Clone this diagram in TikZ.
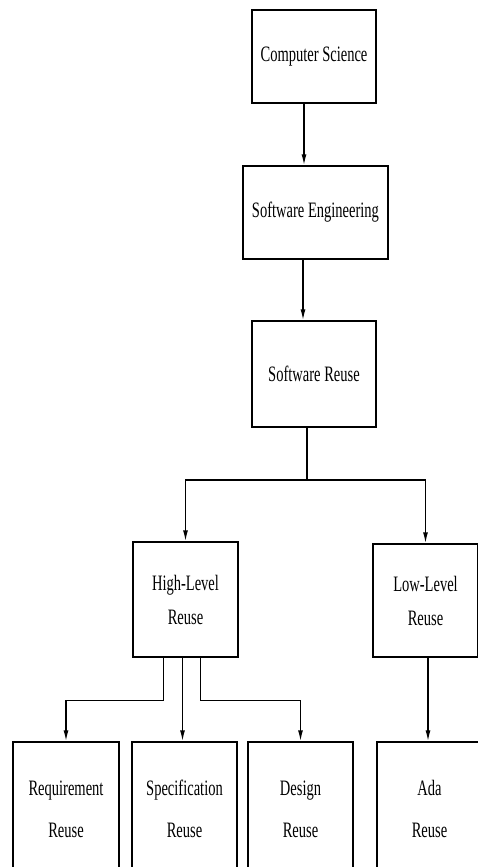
\documentclass[tikz,border=0pt]{standalone}
\usepackage{fontspec}
\setmainfont[FakeStretch=0.66]{Liberation Serif}
\usepackage{tikz}
\usetikzlibrary{arrows.meta}

\begin{document}
\begin{tikzpicture}[x=1pt,y=-1pt,
  box/.style={draw,line width=1.4pt,inner sep=0pt,align=center,
    font=\fontsize{22}{34}\selectfont},
  arr/.style={line width=1.4pt,-{Latex[length=11pt,width=5pt]}}]
\useasboundingbox (0,0) rectangle (478,867);
\clip (0,0) rectangle (478,867);
\node[box,minimum width=124pt,minimum height=93pt] (cs) at (314,56.5) {Computer Science};
\node[box,minimum width=145pt,minimum height=93pt] (se) at (315.5,212.5) {Software Engineering};
\node[box,minimum width=124pt,minimum height=106pt] (sr) at (314,374) {Software Reuse};
\node[box,minimum width=105pt,minimum height=115pt] (hl) at (185.5,599.5) {High-Level\\Reuse};
\node[box,minimum width=105pt,minimum height=113pt] (ll) at (425.5,600.5) {Low-Level\\Reuse};
\node[box,minimum width=106pt,minimum height=134pt] (req) at (66,809) {Requirement\\[8pt]Reuse};
\node[box,minimum width=105pt,minimum height=134pt] (spec) at (184.5,809) {Specification\\[8pt]Reuse};
\node[box,minimum width=105pt,minimum height=134pt] (des) at (300.5,809) {Design\\[8pt]Reuse};
\node[box,minimum width=105pt,minimum height=134pt] (ada) at (429.5,809) {Ada\\[8pt]Reuse};
% top chain
\draw[arr] ([xshift=-10pt]cs.south) -- ([xshift=-10pt]cs.south |- se.north);
\draw[arr] ([xshift=-12.5pt]se.south) -- ([xshift=-12.5pt]se.south |- sr.north);
% split into high and low level
\coordinate (split) at (307,480);
\draw[line width=1.4pt] (sr.south -| split) -- (split);
\draw[arr] (split) -| (hl.north);
\draw[arr] (split) -| (ll.north);
% high level children
\draw[arr] ([xshift=-22pt]hl.south) -- ++(0,43) -| (req.north);
\draw[arr] ([xshift=-3pt]hl.south) -- ([xshift=-3pt]hl.south |- spec.north);
\draw[arr] ([xshift=15pt]hl.south) -- ++(0,43) -| (des.north);
% low level child
\draw[arr] ([xshift=2.5pt]ll.south) -- ([xshift=2.5pt]ll.south |- ada.north);
\end{tikzpicture}
\end{document}
